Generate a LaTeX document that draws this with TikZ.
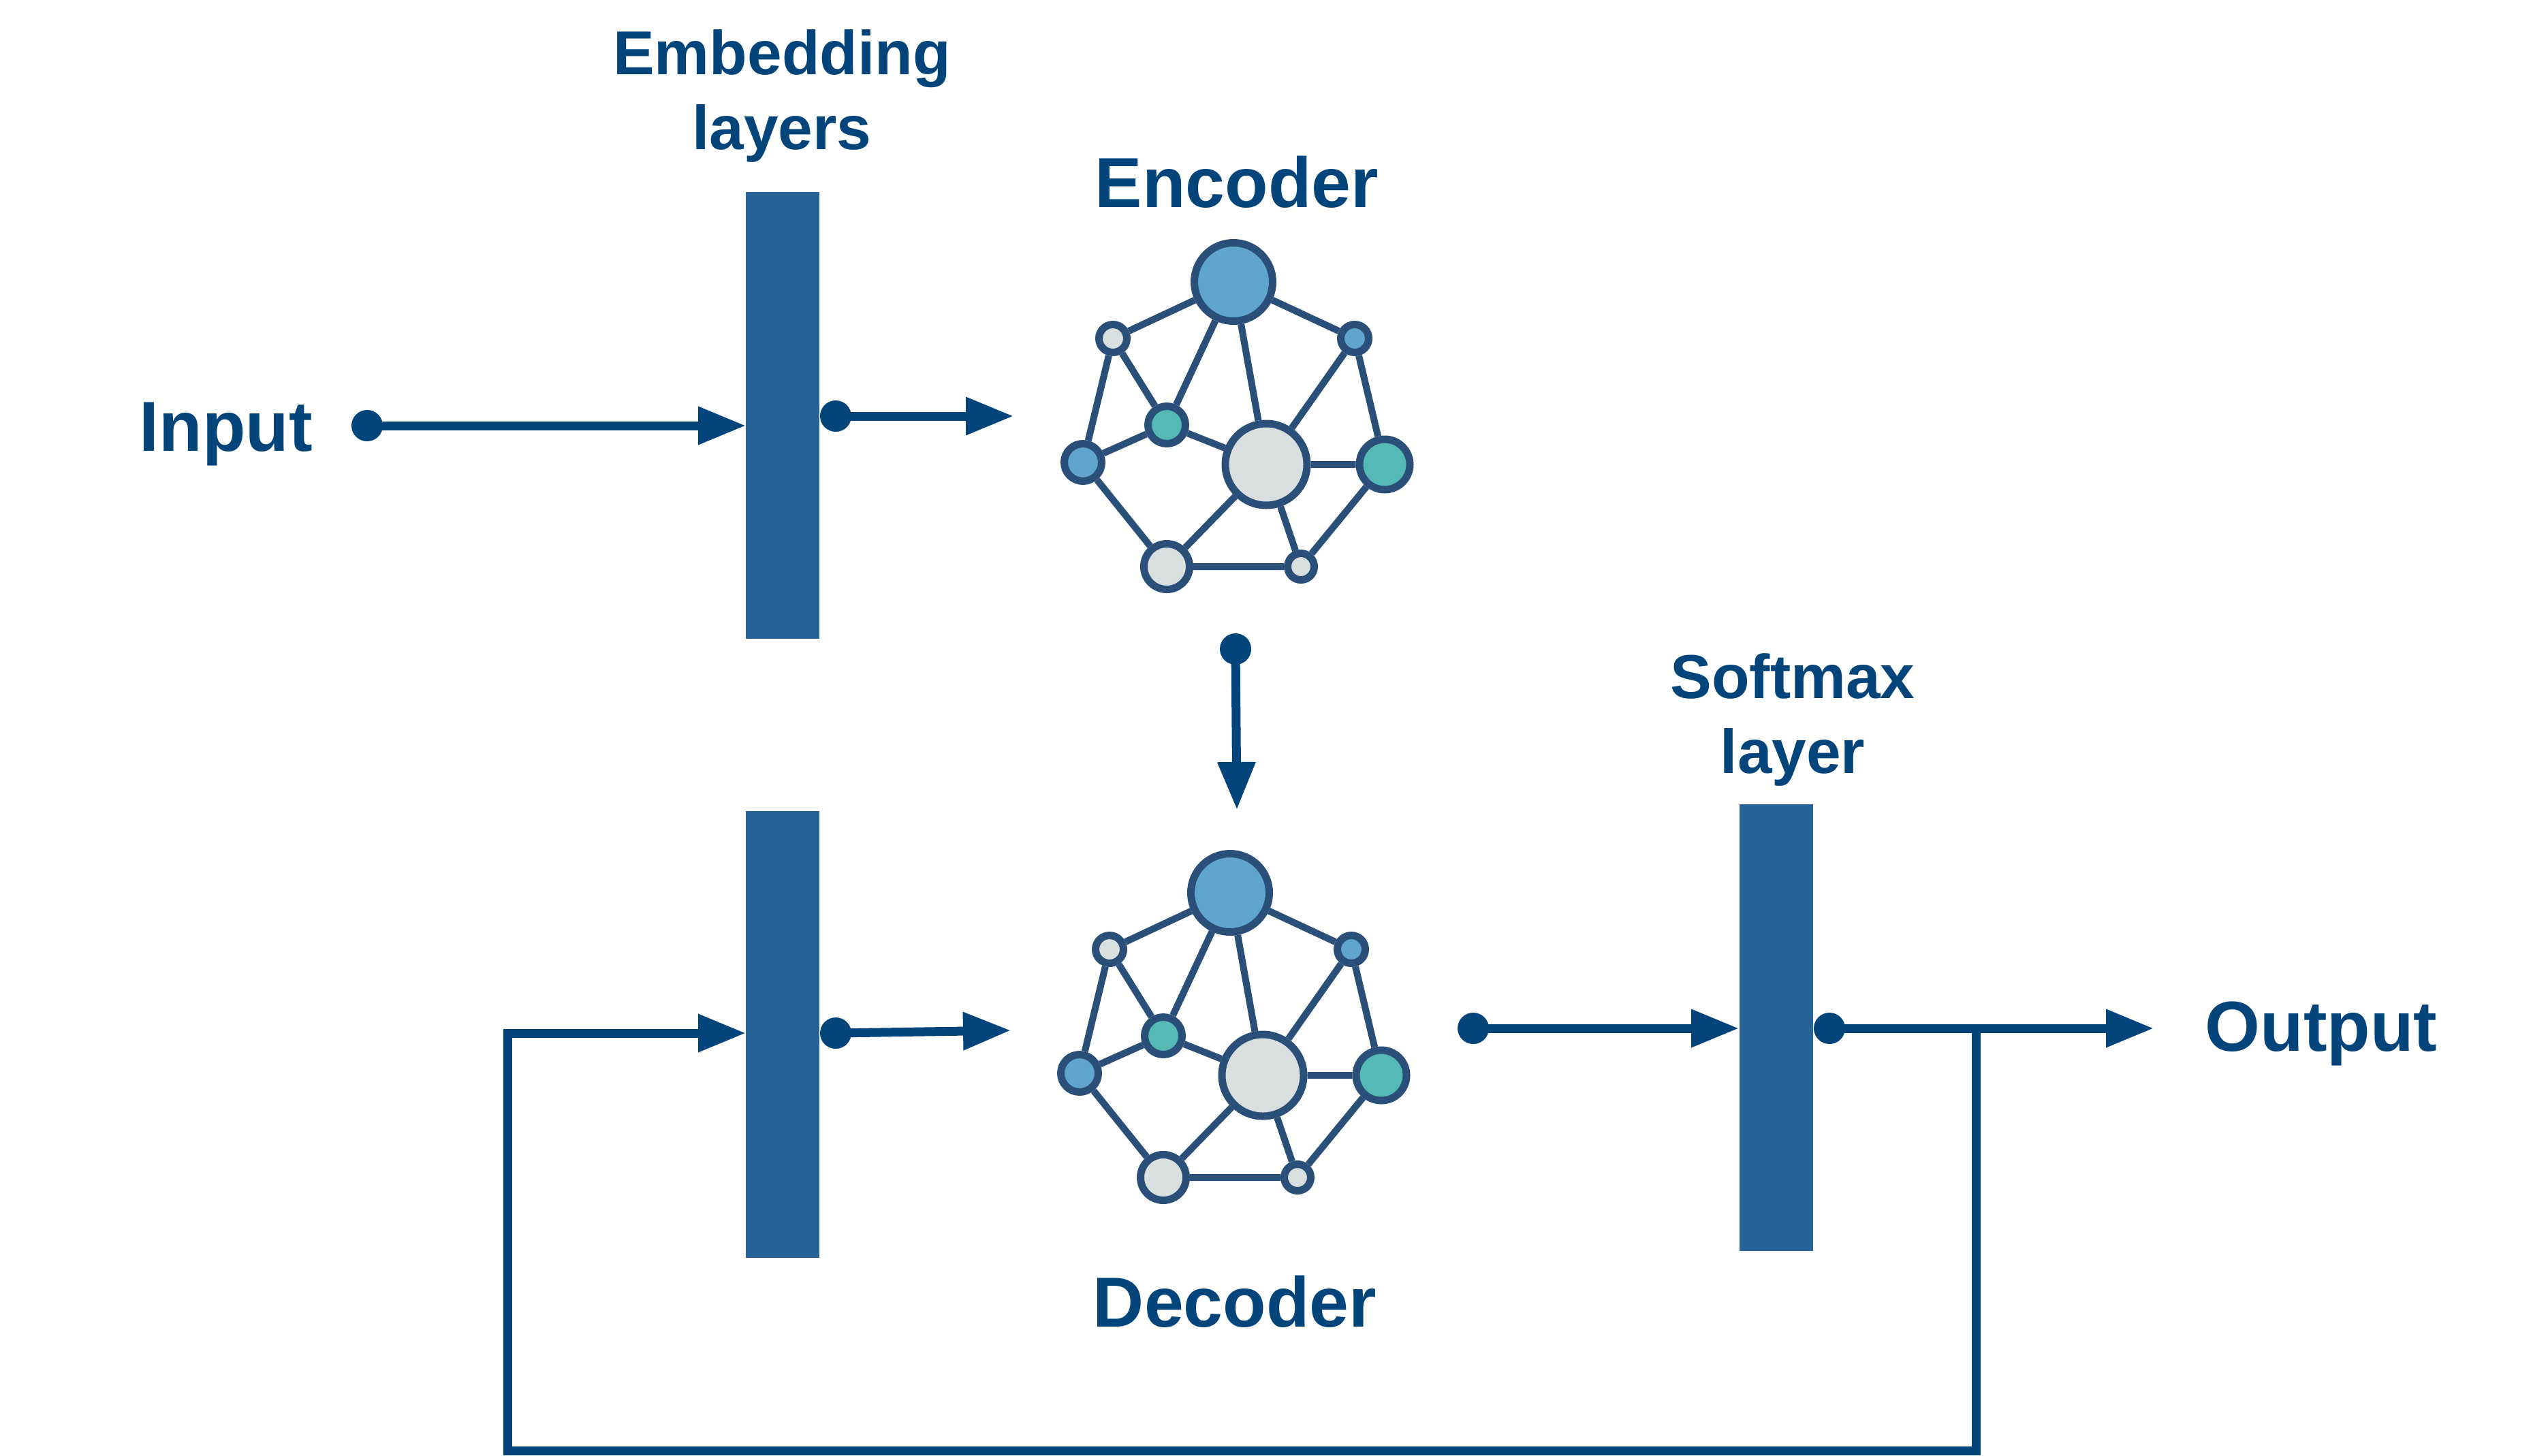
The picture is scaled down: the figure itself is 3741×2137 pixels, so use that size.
\documentclass[tikz,border=0pt]{standalone}
\usepackage{fontspec}
\setmainfont{Liberation Sans}
\usetikzlibrary{arrows.meta}
\definecolor{ink}{HTML}{03447B}
\definecolor{barcol}{HTML}{266396}
\definecolor{edgecol}{HTML}{2A4F78}
\definecolor{nblue}{HTML}{5FA5CE}
\definecolor{ngreen}{HTML}{55BAB5}
\definecolor{ngrey}{HTML}{D9DFDF}
\tikzset{
  x=1pt,y=-1pt,
  layerbar/.style={fill=barcol,draw=none,minimum width=108pt,minimum height=656pt,inner sep=0pt},
  startdot/.style={circle,fill=ink,draw=none,minimum size=46pt,inner sep=0pt},
  flow/.style={draw=ink,line width=13pt,-{Triangle[length=70pt,width=53pt]}},
  biglabel/.style={text=ink,font=\fontsize{104}{110}\selectfont\bfseries,inner sep=0pt},
  midlabel/.style={text=ink,font=\fontsize{91}{110}\selectfont\bfseries,align=center,inner sep=0pt},
  gnode/.style={circle,draw=edgecol,line width=11pt,inner sep=0pt,minimum size=#1},
  gedge/.style={draw=edgecol,line width=10pt},
}
\newcommand{\netgraph}[3]{%
  \begin{scope}[shift={(#2,#3)}]
    \node[gnode=115pt,fill=nblue]  (#1t)  at (1811,412) {};
    \node[gnode=41pt,fill=ngrey]   (#1tl) at (1634,495) {};
    \node[gnode=41pt,fill=nblue]   (#1tr) at (1989,495) {};
    \node[gnode=55pt,fill=ngreen]  (#1g)  at (1713,622) {};
    \node[gnode=55pt,fill=nblue]   (#1l)  at (1590,677) {};
    \node[gnode=120pt,fill=ngrey]  (#1c)  at (1859,680) {};
    \node[gnode=74pt,fill=ngreen]  (#1r)  at (2033,680) {};
    \node[gnode=67pt,fill=ngrey]   (#1bl) at (1713,830) {};
    \node[gnode=39pt,fill=ngrey]   (#1br) at (1910,830) {};
    \draw[gedge] (#1t)--(#1tl) (#1t)--(#1tr) (#1t)--(#1g) (#1t)--(#1c)
      (#1tl)--(#1l) (#1tl)--(#1g) (#1g)--(#1l) (#1g)--(#1c)
      (#1tr)--(#1c) (#1tr)--(#1r) (#1c)--(#1r) (#1l)--(#1bl)
      (#1c)--(#1bl) (#1c)--(#1br) (#1bl)--(#1br) (#1r)--(#1br);
  \end{scope}}
\begin{document}
\begin{tikzpicture}
\useasboundingbox[fill=white] (0,0) rectangle (3741,2137);
% bars
\node[layerbar] (embA) at (1149,610) {};
\node[layerbar] (embB) at (1149,1519) {};
\node[layerbar] (soft) at (2608,1509) {};
% labels
\node[midlabel] (lblemb) at (1148,141) {Embedding\\layers};
\node[midlabel] (lblsoft) at (2632,1057) {Softmax\\layer};
\node[biglabel] (lblenc) at (1816,267) {Encoder};
\node[biglabel] (lbldec) at (1813,1911) {Decoder};
\node[biglabel] (lblin) at (332,638) {Input};
\node[biglabel] (lblout) at (3408,1518) {Output};
% graphs
\netgraph{e}{0}{2}
\netgraph{d}{-5}{899}
% dots
\node[startdot] (d1) at (539,625) {};
\node[startdot] (d2) at (1227,611) {};
\node[startdot] (d3) at (1814,953) {};
\node[startdot] (d4) at (1227,1517) {};
\node[startdot] (d5) at (2163,1510) {};
\node[startdot] (d6) at (2686,1510) {};
% free ends
\coordinate (t1) at (1095,625);
\coordinate (t2) at (1488,611);
\coordinate (t3) at (1816,1189);
\coordinate (t4) at (1484,1513);
\coordinate (t5) at (2553,1510);
\coordinate (t6) at (3162,1510);
\coordinate (j) at (2901,1504);
\coordinate (fb1) at (2901,2130);
\coordinate (fb2) at (745,2130);
\coordinate (fb3) at (745,1517);
\coordinate (t7) at (1095,1517);
% connectors
\draw[flow] (d1.center)--(t1);
\draw[flow] (d2.center)--(t2);
\draw[flow] (d3.center)--(t3);
\draw[flow] (d4.center)--(t4);
\draw[flow] (d5.center)--(t5);
\draw[flow] (d6.center)--(t6);
\draw[flow] (j)--(fb1)--(fb2)--(fb3)--(t7);
\end{tikzpicture}
\end{document}
